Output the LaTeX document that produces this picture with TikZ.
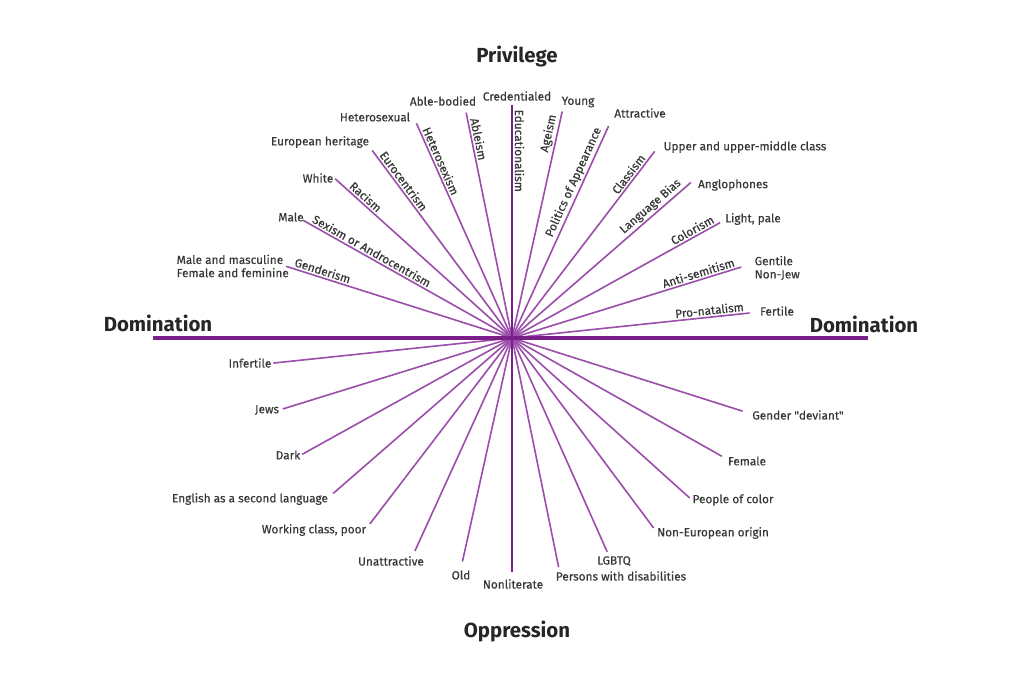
\documentclass[tikz,border=0pt]{standalone}
\usepackage{fontspec}
\setmainfont{Fira Sans}
\newfontfamily\lblfont{Fira Sans}[FakeBold=0.35]
\usepackage{tikz}
\usetikzlibrary{calc}

\definecolor{raypurple}{RGB}{155,78,170}
\definecolor{barpurple}{RGB}{122,30,138}
\definecolor{labelgray}{RGB}{55,55,55}

\begin{document}
\begin{tikzpicture}[x=0.025cm,y=0.025cm]
                \tikzstyle{every node}=[font=\lblfont\fontsize{8.4}{9.4}\selectfont,text=labelgray,inner sep=1pt]
                \tikzstyle{ray}=[raypurple,line width=1.15pt]
                \tikzstyle{axis}=[barpurple,line width=3.5pt]
                \tikzstyle{title}=[font=\rmfamily\fontsize{14.5}{16}\selectfont\bfseries,text=black!85]
                \tikzstyle{along}=[sloped,above,inner sep=1.2pt]
                \useasboundingbox (-512,-353) rectangle (509,338);
                % ends of the rays: privilege side / oppression side
                \coordinate (edu) at (0,233);           \coordinate (nonlit) at (0,-234);
                \coordinate (able) at (101.5:230);      \coordinate (disab) at (281.5:234);
                \coordinate (hetero) at (114:235);      \coordinate (lgbtq) at (294:234);
                \coordinate (euro) at (126.7:234);      \coordinate (noneuro) at (306.7:237);
                \coordinate (race) at (138:238);        \coordinate (poc) at (318:239);
                \coordinate (sex) at (150.6:240);       \coordinate (female) at (330.6:241);
                \coordinate (gender) at (162.4:237);    \coordinate (deviant) at (342.4:242);
                \coordinate (age) at (77.5:232);        \coordinate (old) at (257.5:229);
                \coordinate (looks) at (65.5:233);      \coordinate (unattr) at (245.5:234);
                \coordinate (class) at (52.6:235);      \coordinate (working) at (232.6:234);
                \coordinate (lang) at (41:237);         \coordinate (esl) at (221:237);
                \coordinate (color) at (29:238);        \coordinate (dark) at (209:240);
                \coordinate (anti) at (17.2:240);       \coordinate (jews) at (197.2:240);
                \coordinate (natal) at (6:239);         \coordinate (infert) at (186:240);
                \coordinate (domL) at (-359,0);         \coordinate (domR) at (356,0);
                % left half
                \draw[ray] (able) -- node[along,anchor=south west,pos=.01]{Ableism} (disab);
                \draw[ray] (hetero) -- node[along,anchor=south west,pos=.012]{Heterosexism} (lgbtq);
                \draw[ray] (euro) -- node[along,anchor=south west,pos=.012]{Eurocentrism} (noneuro);
                \draw[ray] (race) -- node[along,anchor=south west,pos=.028]{Racism} (poc);
                \draw[ray] (sex) -- node[along,anchor=south west,pos=.012]{Sexism or Androcentrism} (female);
                \draw[ray] (gender) -- node[along,anchor=south west,pos=.01]{Genderism} (deviant);
                % right half
                \draw[ray] (age) -- node[along,anchor=south east,pos=.006]{Ageism} (old);
                \draw[ray] (looks) -- node[along,anchor=south east,pos=.008]{Politics of Appearance} (unattr);
                \draw[ray] (class) -- node[along,anchor=south east,pos=.018]{Classism} (working);
                \draw[ray] (lang) -- node[along,anchor=south east,pos=.012]{Language Bias} (esl);
                \draw[ray] (color) -- node[along,anchor=south east,pos=.004]{Colorism} (dark);
                \draw[ray] (anti) -- node[along,anchor=south east,pos=.006]{Anti-semitism} (jews);
                \draw[ray] (natal) -- node[along,anchor=south east,pos=.006]{Pro-natalism} (infert);
                \draw[ray,barpurple,line width=1.6pt] (edu) -- node[along,anchor=south west,pos=.004]{Educationalism} (nonlit);
                \draw[axis] (domL) -- (domR);
                % titles
                \node[title] (priv) at (5,282) {Privilege};
                \node[title] (oppr) at (5,-293) {Oppression};
                \node[title] (dominL) at (-354,15) {Domination};
                \node[title] (dominR) at (352,14) {Domination};
                % privilege labels
                \node (credl) at (5,242) {Credentialed};
                \node (ablel) at (-69,237) {Able-bodied};
                \node (heterol) at (-137,221) {Heterosexual};
                \node (eurol) at (-192,196) {European heritage};
                \node (racel) at (-194,160) {White};
                \node (sexl) at (-221,121) {Male};
                \node[align=left,anchor=west] (genderl) at (-337,72) {Male and masculine\\Female and feminine};
                \node (agel) at (66,236) {Young};
                \node (looksl) at (128,225) {Attractive};
                \node (classl) at (233,191) {Upper and upper-middle class};
                \node (langl) at (221,153) {Anglophones};
                \node (colorl) at (241,119) {Light, pale};
                \node[align=left,anchor=west] (antil) at (241,70) {Gentile\\Non-Jew};
                \node (natall) at (265,27) {Fertile};
                % oppression labels
                \node (infertl) at (-262,-25) {Infertile};
                \node (jewsl) at (-245,-72) {Jews};
                \node (darkl) at (-224,-117) {Dark};
                \node (esll) at (-262,-161) {English as a second language};
                \node (workingl) at (-198,-192) {Working class, poor};
                \node (unattrl) at (-121,-223) {Unattractive};
                \node (oldl) at (-51,-237) {Old};
                \node (nonlitl) at (1,-246) {Nonliterate};
                \node (disabl) at (109,-238) {Persons with disabilities};
                \node (lgbtql) at (102,-223) {LGBTQ};
                \node (noneurol) at (201,-195) {Non-European origin};
                \node (pocl) at (221,-162) {People of color};
                \node (femalel) at (235,-123) {Female};
                \node (deviantl) at (286,-77) {Gender "deviant"};
            \end{tikzpicture}
\end{document}
